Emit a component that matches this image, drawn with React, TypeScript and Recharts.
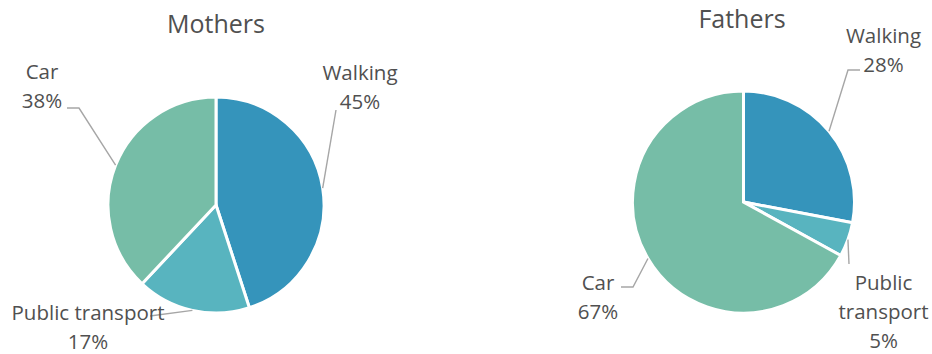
import React from "react";
import { PieChart, Pie, Cell } from "recharts";

const categories = ["Walking", "Public transport", "Car"];
const mothersValues = [45, 17, 38];
const fathersValues = [28, 5, 67];
const COLORS = ["#3594BB", "#58B4BF", "#76BDA7"];

const mothersData = categories.map((name, i) => ({ name, value: mothersValues[i] }));
const fathersData = categories.map((name, i) => ({ name, value: fathersValues[i] }));

// label spots, offsets from the pie centre
type LabelSpot = { tx: number; ty: number; line: number[][]; wrap?: boolean };

const mothersLabels: LabelSpot[] = [
  { tx: 144, ty: -125, line: [[120, -95]] },
  { tx: -128, ty: 115, line: [[-66, 111]] },
  { tx: -174, ty: -126, line: [[-137, -97], [-149, -97]] },
];

const fathersLabels: LabelSpot[] = [
  { tx: 140, ty: -159, line: [[104.5, -132], [116.5, -132]] },
  { tx: 140, ty: 88, line: [[105.5, 62]], wrap: true },
  { tx: -145.5, ty: 88, line: [[-110.5, 85], [-122.5, 85]] },
];

const FONT = "'Open Sans', sans-serif";
const TEXT = "#505050";

const makeLabel = (spots: LabelSpot[]) => (props: any) => {
  const { cx, cy, midAngle, outerRadius, percent, name, index } = props;
  const s = spots[index];
  const rad = Math.PI / 180;
  const sx = cx + outerRadius * Math.cos(-midAngle * rad);
  const sy = cy + outerRadius * Math.sin(-midAngle * rad);
  const pts = [[sx, sy], ...s.line.map(([dx, dy]) => [cx + dx, cy + dy])];
  const pct = `${Math.round(percent * 100)}%`;
  const lines = s.wrap ? [...String(name).split(" "), pct] : [name, pct];
  return (
    <g>
      <polyline
        points={pts.map((p) => p.join(",")).join(" ")}
        fill="none"
        stroke="#A6A6A6"
        strokeWidth={1.4}
      />
      <text x={cx + s.tx} y={cy + s.ty} textAnchor="middle" fill={TEXT} fontSize={20.5} fontFamily={FONT}>
        {lines.map((t, i) => (
          <tspan key={i} x={cx + s.tx} dy={i === 0 ? 0 : 29}>
            {t}
          </tspan>
        ))}
      </text>
    </g>
  );
};

const titleStyle = (left: number, top: number): React.CSSProperties => ({
  position: "absolute",
  left,
  top,
  width: 200,
  textAlign: "center",
  fontFamily: FONT,
  fontSize: 25,
  lineHeight: "30px",
  color: TEXT,
});

const App: React.FC = () => (
  <div style={{ position: "absolute", left: 0, top: 0, width: 932, height: 354, background: "#fff" }}>
    <div style={titleStyle(116, 8)}>Mothers</div>
    <div style={titleStyle(642, 3)}>Fathers</div>
    <div style={{ position: "absolute", left: 0, top: 0 }}>
      <PieChart width={466} height={354} margin={{ top: 0, right: 0, bottom: 0, left: 0 }}>
        <Pie
          data={mothersData}
          dataKey="value"
          nameKey="name"
          cx={216}
          cy={205}
          outerRadius={108}
          startAngle={90}
          endAngle={-270}
          stroke="#fff"
          strokeWidth={3}
          label={makeLabel(mothersLabels)}
          labelLine={false}
          isAnimationActive={false}
        >
          {mothersData.map((entry, index) => (
            <Cell key={`m-${index}`} fill={COLORS[index % COLORS.length]} />
          ))}
        </Pie>
      </PieChart>
    </div>
    <div style={{ position: "absolute", left: 466, top: 0 }}>
      <PieChart width={466} height={354} margin={{ top: 0, right: 0, bottom: 0, left: 0 }}>
        <Pie
          data={fathersData}
          dataKey="value"
          nameKey="name"
          cx={277.5}
          cy={202}
          outerRadius={111}
          startAngle={90}
          endAngle={-270}
          stroke="#fff"
          strokeWidth={3}
          label={makeLabel(fathersLabels)}
          labelLine={false}
          isAnimationActive={false}
        >
          {fathersData.map((entry, index) => (
            <Cell key={`f-${index}`} fill={COLORS[index % COLORS.length]} />
          ))}
        </Pie>
      </PieChart>
    </div>
  </div>
);

export default App;
